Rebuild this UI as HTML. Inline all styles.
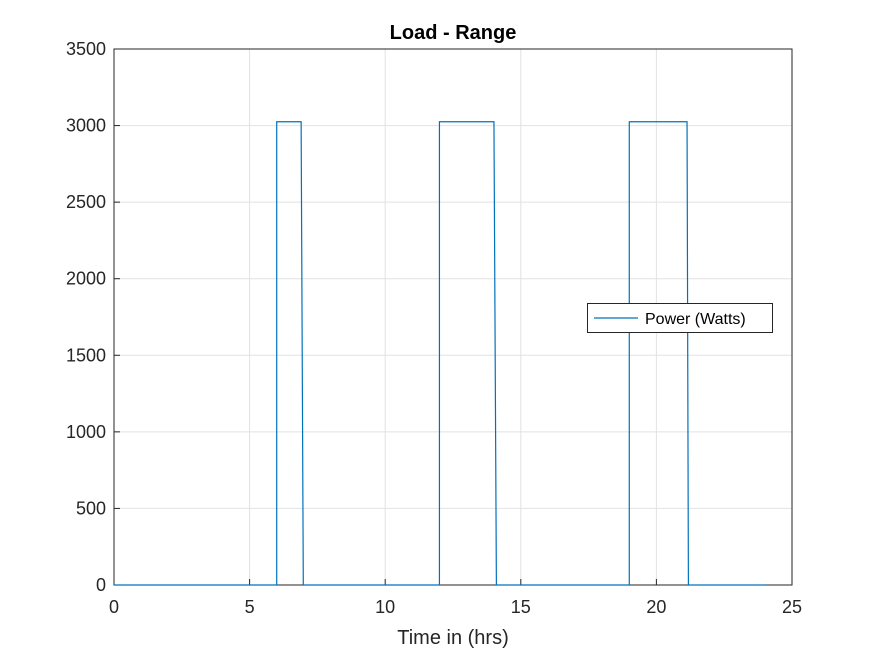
<!DOCTYPE html>
<html><head><meta charset="utf-8"><style>body{margin:0;background:#fff}svg{display:block;font-family:"Liberation Sans",Arial,sans-serif}</style></head>
<body>
<svg id="c" width="875" height="656"></svg>
<script>
const timeHrs=[0,6,6,6.9,6.98,12,12,14.01,14.1,19,19,21.13,21.18,24];
const powerW=[0,0,3025,3025,0,0,3025,3025,0,0,3025,3025,0,0];
const xTicks=[0,5,10,15,20,25];
const yTicks=[0,500,1000,1500,2000,2500,3000,3500];
const L=114,R=792,T=49,B=585;
const xs=v=>L+(v-0)/25*(R-L), ys=v=>B-v/3500*(B-T);
const svg=document.getElementById('c'),NS='http://www.w3.org/2000/svg';
function mk(t,a,txt){const e=document.createElementNS(NS,t);for(const k in a)e.setAttribute(k,a[k]);if(txt!=null)e.textContent=txt;svg.appendChild(e);return e;}
let e=mk('rect',{x:L,y:T,width:R-L,height:B-T,fill:'#fff'});


xTicks.forEach(v=>{const x=xs(v);
 e=mk('line',{x1:x,x2:x,y1:T,y2:B,stroke:'#e2e2e2','stroke-width':1});
 
 
 mk('line',{x1:x,x2:x,y1:B,y2:B-6,stroke:'#262626'});
 e=mk('text',{x:x,y:B+28,'text-anchor':'middle','font-size':18,fill:'#262626'},v);
 
 
});
yTicks.forEach(v=>{const y=ys(v);
 e=mk('line',{x1:L,x2:R,y1:y,y2:y,stroke:'#e2e2e2','stroke-width':1});
 
 
 mk('line',{x1:L,x2:L+6,y1:y,y2:y,stroke:'#262626'});
 e=mk('text',{x:L-8,y:y+6,'text-anchor':'end','font-size':18,fill:'#262626'},v);
 
 
});
e=mk('rect',{x:L,y:T,width:R-L,height:B-T,fill:'none',stroke:'#262626','stroke-width':1});


e=mk('polyline',{points:timeHrs.map((t,i)=>xs(t)+','+ys(powerW[i])).join(' '),fill:'none',stroke:'#0072bd','stroke-width':1.2});


e=mk('text',{x:453,y:39,'text-anchor':'middle','font-size':20,'font-weight':'bold',fill:'#000'},'Load - Range');


e=mk('text',{x:453,y:644,'text-anchor':'middle','font-size':20,fill:'#262626'},'Time in (hrs)');


e=mk('rect',{x:587.5,y:303.5,width:185,height:29,fill:'#fff',stroke:'#262626'});


e=mk('line',{x1:594,x2:638,y1:318,y2:318,stroke:'#0072bd','stroke-width':1.2});


e=mk('text',{x:645,y:324,'font-size':16,fill:'#000'},'Power (Watts)');


</script>
</body></html>
